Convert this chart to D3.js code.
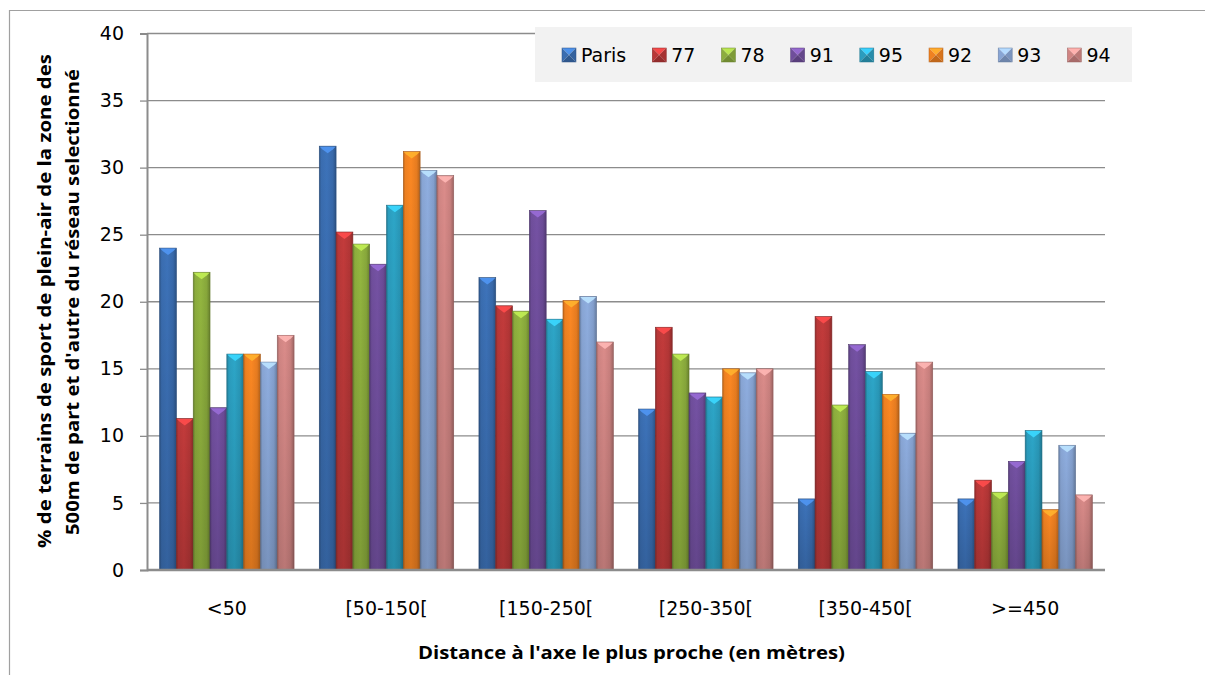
<!DOCTYPE html>
<html><head><meta charset="utf-8">
<script src="https://cdn.jsdelivr.net/npm/d3@7"></script>
<style>html,body{margin:0;padding:0;background:#fff;}svg{display:block;}</style>
</head><body>
<svg id="c" width="1205" height="675"></svg>
<script>
const categories = ["<50", "[50-150[", "[150-250[", "[250-350[", "[350-450[", ">=450"];
const seriesNames = ["Paris", "77", "78", "91", "95", "92", "93", "94"];
const paris = [24.0, 31.6, 21.8, 12.0, 5.3, 5.3];
const d77 = [11.3, 25.2, 19.7, 18.1, 18.9, 6.7];
const d78 = [22.2, 24.3, 19.3, 16.1, 12.3, 5.8];
const d91 = [12.1, 22.8, 26.8, 13.2, 16.8, 8.1];
const d95 = [16.1, 27.2, 18.7, 12.9, 14.8, 10.4];
const d92 = [16.1, 31.2, 20.1, 15.0, 13.1, 4.5];
const d93 = [15.5, 29.8, 20.4, 14.7, 10.2, 9.3];
const d94 = [17.5, 29.4, 17.0, 15.0, 15.5, 5.6];
const yTicks = [0, 5, 10, 15, 20, 25, 30, 35, 40];
const colors = ["#3a6db0", "#b93838", "#8cad3d", "#6f4e9b", "#2b9dbe", "#ef8121", "#88a5d4", "#d08583"];
const yTitle1 = "% de terrains de sport de plein-air de la zone des";
const yTitle2 = "500m de part et d'autre du réseau selectionné";
const xTitle = "Distance à l'axe le plus proche (en mètres)";

const values = [paris, d77, d78, d91, d95, d92, d93, d94];
const svg = d3.select("#c");
const defs = svg.append("defs");
const font = "'DejaVu Sans', sans-serif";

// frame
svg.append("path").attr("d", "M9.5,675 L9.5,10.5 L1205,10.5").attr("fill", "none").attr("stroke", "#a0a0a0").attr("stroke-width", 1.2);

const x0 = d3.scaleBand().domain(categories).range([147, 1105]).padding(0);
const x1 = d3.scaleBand().domain(seriesNames).range([0, x0.bandwidth()]).paddingInner(0).paddingOuter(0.75);
const y = d3.scaleLinear().domain([0, 40]).range([570, 33.5]);

// gradients
colors.forEach((c, i) => {
  const base = d3.color(c);
  const g = defs.append("linearGradient").attr("id", "g" + i).attr("x1", "0%").attr("x2", "100%").attr("y1", "0%").attr("y2", "0%");
  [[0, base.darker(0.7)], [0.12, base], [0.45, base.brighter(0.15)], [0.8, base.darker(0.1)], [1, base.darker(0.8)]]
    .forEach(([o, col]) => g.append("stop").attr("offset", o).attr("stop-color", col.formatHex()));
});
const vg = defs.append("linearGradient").attr("id", "vshade").attr("x1", 0).attr("x2", 0).attr("y1", 0).attr("y2", 1);
vg.append("stop").attr("offset", 0).attr("stop-color", "#000").attr("stop-opacity", 0);
vg.append("stop").attr("offset", 1).attr("stop-color", "#000").attr("stop-opacity", 0.15);

// gridlines
svg.append("g").selectAll("line").data(yTicks.filter(d => d > 0)).join("line")
  .attr("x1", 147).attr("x2", 1105).attr("y1", d => y(d)).attr("y2", d => y(d))
  .attr("stroke", "#8c8c8c").attr("stroke-width", 1.3);

// y axis
const yAxis = svg.append("g").attr("transform", "translate(147,0)")
  .call(d3.axisLeft(y).tickValues(yTicks).tickSize(7).tickPadding(16));
yAxis.select(".domain").attr("stroke", "#8c8c8c").attr("stroke-width", 2);
yAxis.selectAll(".tick line").attr("stroke", "#8c8c8c").attr("stroke-width", 1.3);
yAxis.selectAll(".tick text").attr("font-family", font).attr("font-size", 19).attr("fill", "#000");

// bars
const groups = svg.append("g").selectAll("g").data(categories).join("g")
  .attr("transform", d => `translate(${x0(d)},0)`);
groups.each(function(cat, ci) {
  const g = d3.select(this);
  seriesNames.forEach((s, si) => {
    const v = values[si][ci];
    const bx = x1(s), bw = x1.bandwidth(), by = y(v), bh = y(0) - y(v);
    const base = d3.color(colors[si]);
    g.append("rect").attr("x", bx).attr("y", by).attr("width", bw).attr("height", bh)
      .attr("fill", `url(#g${si})`).attr("stroke", base.darker(1).formatHex()).attr("stroke-width", 0.6);
    g.append("rect").attr("x", bx).attr("y", by).attr("width", bw).attr("height", bh).attr("fill", "url(#vshade)");
    g.append("path")
      .attr("d", `M${bx + 0.5},${by + 0.5} L${bx + bw - 0.5},${by + 0.5} L${bx + bw - 3},${by + 3} L${bx + bw / 2},${by + 7} L${bx + 3},${by + 3} Z`)
      .attr("fill", base.brighter(0.9).formatHex()).attr("opacity", 0.9);
  });
});

// x axis line
svg.append("line").attr("x1", 147).attr("x2", 1105).attr("y1", y(0)).attr("y2", y(0))
  .attr("stroke", "#8c8c8c").attr("stroke-width", 2.5);

// category labels
svg.append("g").selectAll("text").data(categories).join("text")
  .attr("x", d => x0(d) + x0.bandwidth() / 2).attr("y", 615)
  .attr("text-anchor", "middle").attr("font-family", font).attr("font-size", 19).attr("fill", "#000")
  .text(d => d);

// titles
const tfont = "'Open Sans', sans-serif";
svg.append("text").attr("x", 631.5).attr("y", 659).attr("text-anchor", "middle")
  .attr("font-family", tfont).attr("font-weight", "bold").attr("font-size", 18.5).attr("fill", "#000")
  .attr("textLength", 427).attr("lengthAdjust", "spacingAndGlyphs").text(xTitle);
svg.append("text").attr("transform", "translate(51,301) rotate(-90)").attr("text-anchor", "middle")
  .attr("font-family", tfont).attr("font-weight", "bold").attr("font-size", 18.5).attr("fill", "#000")
  .attr("textLength", 494).attr("lengthAdjust", "spacingAndGlyphs").text(yTitle1);
svg.append("text").attr("transform", "translate(79,302) rotate(-90)").attr("text-anchor", "middle")
  .attr("font-family", tfont).attr("font-weight", "bold").attr("font-size", 18.5).attr("fill", "#000")
  .attr("textLength", 466).attr("lengthAdjust", "spacingAndGlyphs").text(yTitle2);

// legend
const lg = svg.append("g");
lg.append("rect").attr("x", 535).attr("y", 27).attr("width", 597).attr("height", 55).attr("fill", "#f2f2f2");
let lx = 562;
seriesNames.forEach((s, i) => {
  const base = d3.color(colors[i]);
  const m = 14, my = 48;
  const cx = lx + m / 2, cy = my + m / 2;
  const tri = (pts, col) => lg.append("path").attr("d", "M" + pts.map(p => p.join(",")).join(" L") + " Z").attr("fill", col);
  tri([[lx, my], [lx + m, my], [cx, cy]], base.brighter(0.8).formatHex());
  tri([[lx, my], [cx, cy], [lx, my + m]], base.formatHex());
  tri([[lx + m, my], [cx, cy], [lx + m, my + m]], base.darker(0.3).formatHex());
  tri([[lx, my + m], [cx, cy], [lx + m, my + m]], base.darker(0.6).formatHex());
  lg.append("rect").attr("x", lx).attr("y", my).attr("width", m).attr("height", m).attr("fill", "none")
    .attr("stroke", base.darker(0.8).formatHex()).attr("stroke-width", 0.5);
  const t = lg.append("text").attr("x", lx + m + 5).attr("y", my + m - 0.5)
    .attr("font-family", font).attr("font-size", 19).attr("fill", "#000").text(s);
  lx = lx + m + 5 + t.node().getComputedTextLength() + 26;
});
</script>
</body></html>
